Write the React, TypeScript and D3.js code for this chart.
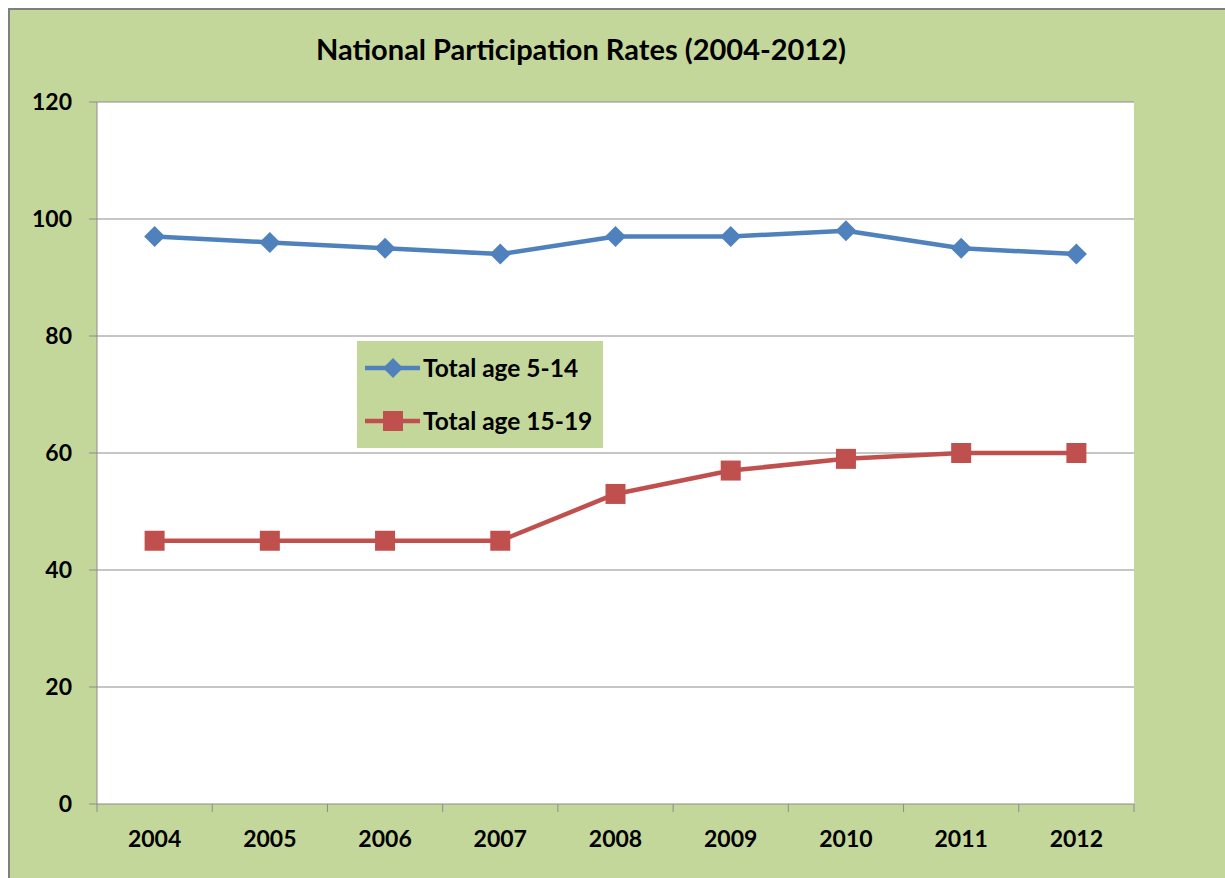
import React from "react";
import * as d3 from "d3";

const years = ["2004", "2005", "2006", "2007", "2008", "2009", "2010", "2011", "2012"];
const age5to14 = [97, 96, 95, 94, 97, 97, 98, 95, 94];
const age15to19 = [45, 45, 45, 45, 53, 57, 59, 60, 60];
const yTicks = [0, 20, 40, 60, 80, 100, 120];
const seriesNames = ["Total age 5-14", "Total age 15-19"];

const W = 1225;
const H = 878;
const left = 97, right = 1134, top = 102, bottom = 804;
const font = "Lato, 'Open Sans', sans-serif";

export default function App() {
  const x = d3.scaleBand<string>().domain(years).range([left, right]).padding(0);
  const y = d3.scaleLinear().domain([0, 120]).range([bottom, top]);
  const cx = (d: string) => (x(d) as number) + x.bandwidth() / 2;
  const line = d3.line<number>().x((_, i) => cx(years[i])).y((v) => y(v));
  const blue = "#4F81BD";
  const red = "#C0504D";
  const grid = "#8C8C8C";
  const diamond = (px: number, py: number, r: number) =>
    `M${px},${py - r}L${px + r},${py}L${px},${py + r}L${px - r},${py}Z`;

  const boundaries = d3.range(years.length + 1).map((i) => left + i * x.bandwidth());

  return (
    <svg width={W} height={H} style={{ display: "block", position: "absolute", left: 0, top: 0 }}>
      <rect x={9} y={9} width={W + 20} height={H + 20} fill="#C4D79B" stroke="#7F7F7F" strokeWidth={2} />
      <text x={581} y={60} textAnchor="middle" fontFamily={font} fontWeight="bold" fontSize={29} fill="#000">
        National Participation Rates (2004-2012)
      </text>
      <rect x={left} y={top} width={right - left} height={bottom - top} fill="#fff" />
      {yTicks.map((t) => (
        <g key={t}>
          {t > 0 && <line x1={left} x2={right} y1={y(t)} y2={y(t)} stroke={grid} strokeWidth={1} />}
          <line x1={left - 8} x2={left} y1={y(t)} y2={y(t)} stroke={grid} strokeWidth={1} />
          <text x={left - 25} y={y(t)} dy="0.36em" textAnchor="end" fontFamily={font} fontWeight="bold" fontSize={23}>
            {t}
          </text>
        </g>
      ))}
      <line x1={left} x2={left} y1={top} y2={bottom} stroke={grid} strokeWidth={1} />
      <line x1={left} x2={right} y1={bottom} y2={bottom} stroke={grid} strokeWidth={1} />
      {boundaries.map((b, i) => (
        <line key={i} x1={b} x2={b} y1={bottom} y2={bottom + 8} stroke={grid} strokeWidth={1} />
      ))}
      {years.map((yr) => (
        <text key={yr} x={cx(yr)} y={bottom + 43} textAnchor="middle" fontFamily={font} fontWeight="bold" fontSize={23}>
          {yr}
        </text>
      ))}
      <path d={line(age5to14) || ""} fill="none" stroke={blue} strokeWidth={4.5} strokeLinejoin="round" />
      {age5to14.map((v, i) => (
        <path key={i} d={diamond(cx(years[i]), y(v), 10.5)} fill={blue} />
      ))}
      <path d={line(age15to19) || ""} fill="none" stroke={red} strokeWidth={4.5} strokeLinejoin="round" />
      {age15to19.map((v, i) => (
        <rect key={i} x={cx(years[i]) - 10} y={y(v) - 10} width={20} height={20} fill={red} />
      ))}
      <g>
        <rect x={357} y={341} width={246} height={107} fill="#C4D79B" />
        <line x1={365} x2={420} y1={368} y2={368} stroke={blue} strokeWidth={4.5} />
        <path d={diamond(393, 368, 10)} fill={blue} />
        <text x={423} y={368} dy="0.36em" fontFamily={font} fontWeight="bold" fontSize={24.5}>
          {seriesNames[0]}
        </text>
        <line x1={365} x2={420} y1={421} y2={421} stroke={red} strokeWidth={4.5} />
        <rect x={383} y={411} width={20} height={20} fill={red} />
        <text x={423} y={421} dy="0.36em" fontFamily={font} fontWeight="bold" fontSize={24.5}>
          {seriesNames[1]}
        </text>
      </g>
    </svg>
  );
}
